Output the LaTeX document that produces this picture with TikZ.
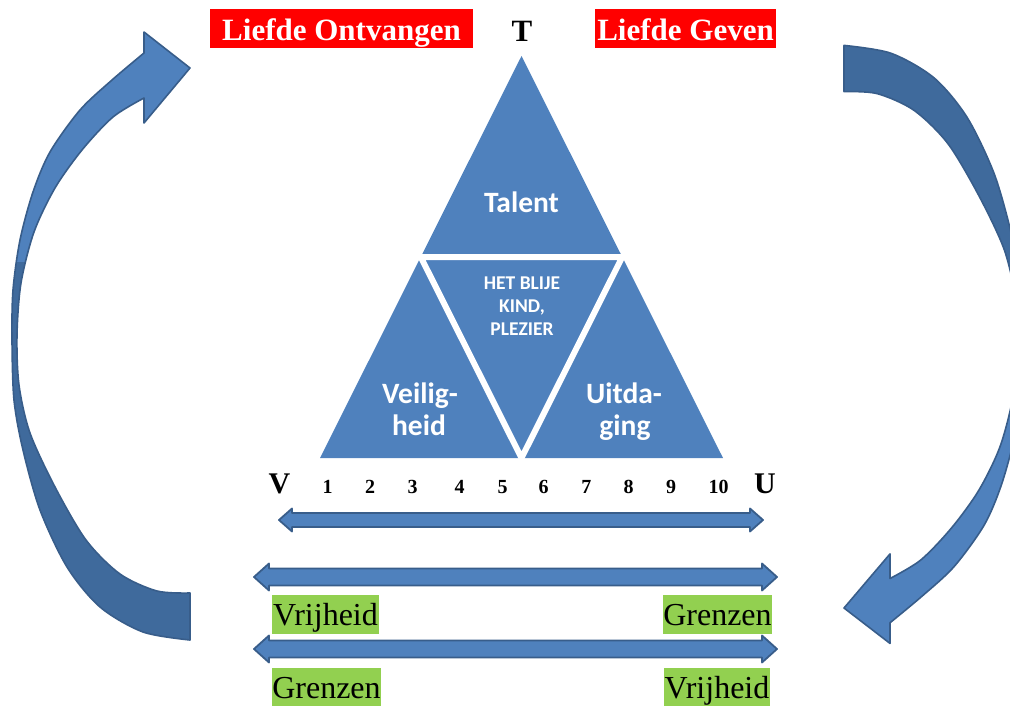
\documentclass[tikz,border=0pt]{standalone}
\usepackage{fontspec}
\setmainfont{Liberation Serif}
\newfontfamily\carl{Carlito}
\definecolor{blu}{HTML}{4F81BD}
\definecolor{bludark}{HTML}{3F6A9C}
\definecolor{bluline}{HTML}{385D8A}
\definecolor{grn}{HTML}{92D050}
\newcommand\crescentpath{plot[smooth] coordinates {(190,640) (143,632) (100,607) (67,567) (40,510) (23,450) (14,400) (12,340) (13,290) (20,240) (33,192) (50,152) (80,110) (112,80) (144,53)} -- (144,32) -- (190,68) -- (144,123) -- plot[smooth] coordinates {(144,98) (113,117) (82,150) (55,188) (34,232) (21,283) (17,335) (19,385) (30,433) (55,487) (86,540) (120,574) (157,591) (190,593)} -- cycle}
\newcommand\dblarrow[6]{%
  \filldraw[fill=blu, draw=bluline, line width=1.8pt, line join=round]
    (#1,#3) -- ({#1+#6},{#3-#5}) -- ({#1+#6},{#3-#4}) -- ({#2-#6},{#3-#4})
    -- ({#2-#6},{#3-#5}) -- (#2,#3) -- ({#2-#6},{#3+#5}) -- ({#2-#6},{#3+#4})
    -- ({#1+#6},{#3+#4}) -- ({#1+#6},{#3+#5}) -- cycle;}
\newcommand\curvedarrow{%
  \fill[blu] \crescentpath;
  \begin{scope}
    \clip \crescentpath;
    \fill[bludark] (0,262) rectangle (200,706);
  \end{scope}
  \draw[bluline, line width=1.6pt, line join=round] \crescentpath;}
\begin{document}
\begin{tikzpicture}[x=1pt, y=-1pt,
  trilabel/.style={font=\carl\bfseries\fontsize{29.5}{32}\selectfont, text=white, inner sep=0pt, anchor=base},
  smalllabel/.style={font=\carl\bfseries\fontsize{19.5}{22}\selectfont, text=white, inner sep=0pt, anchor=base},
  redlabel/.style={fill=red, text=white, font=\bfseries\fontsize{31}{34}\selectfont, inner sep=0pt, text height=32pt, text depth=7pt, anchor=base},
  greenlabel/.style={fill=grn, text=black, font=\fontsize{32}{34}\selectfont, inner sep=0pt, text height=30pt, text depth=9pt, anchor=base},
  numlabel/.style={font=\bfseries\fontsize{20}{22}\selectfont, inner sep=0pt, anchor=base},
  endlabel/.style={font=\bfseries\fontsize{30}{32}\selectfont, inner sep=0pt, anchor=base}]
\useasboundingbox (0,0) rectangle (1010,706);

% curved arrows
\begin{scope}
  \curvedarrow
\end{scope}
\begin{scope}[shift={(1034,674.9)}, xscale=-1, yscale=-0.9836]
  \curvedarrow
\end{scope}

% triangle
\fill[blu] (521.5,56) -- (320,458) -- (723,458) -- cycle;
\draw[white, line width=6pt, line join=miter] (420.75,257) -- (622.25,257) -- (521.5,458) -- cycle;

\node[trilabel] (talent) at (521.5,212) {Talent};
\node[smalllabel] (het) at (522,289) {HET BLIJE};
\node[smalllabel] (kind) at (522,312) {KIND,};
\node[smalllabel] (plezier) at (522,335) {PLEZIER};
\node[trilabel] (veilig) at (420,403) {Veilig-};
\node[trilabel] (heid) at (419,435) {heid};
\node[trilabel] (uitda) at (624,403) {Uitda-};
\node[trilabel] (ging) at (625,435) {ging};

% top labels
\node[redlabel, minimum width=263pt] (ontvangen) at (341.5,41) {Liefde Ontvangen};
\node[redlabel, minimum width=181pt] (geven) at (685.5,41) {Liefde Geven};
\node[endlabel, font=\bfseries\fontsize{31}{33}\selectfont] (T) at (522,42) {T};

% scale
\node[endlabel] (V) at (279.5,493) {V};
\node[endlabel] (U) at (765,493) {U};
\foreach \x/\n in {327.5/1, 370/2, 412.5/3, 459.6/4, 502.5/5, 543.6/6, 586.4/7, 628.6/8, 671/9, 718.6/10}
  \node[numlabel] (n\n) at (\x,493) {\n};

% straight double arrows
\dblarrow{279}{763}{520}{7}{11.5}{13}
\dblarrow{254}{777}{577}{8.5}{13.5}{15}
\dblarrow{254}{777}{649}{8.5}{13.5}{15}

% green labels
\node[greenlabel, minimum width=107pt] (vrij1) at (325.5,625) {Vrijheid};
\node[greenlabel, minimum width=109pt] (gren1) at (717.5,625) {Grenzen};
\node[greenlabel, minimum width=109pt] (gren2) at (326.5,698) {Grenzen};
\node[greenlabel, minimum width=106pt] (vrij2) at (717,698) {Vrijheid};
\end{tikzpicture}
\end{document}
